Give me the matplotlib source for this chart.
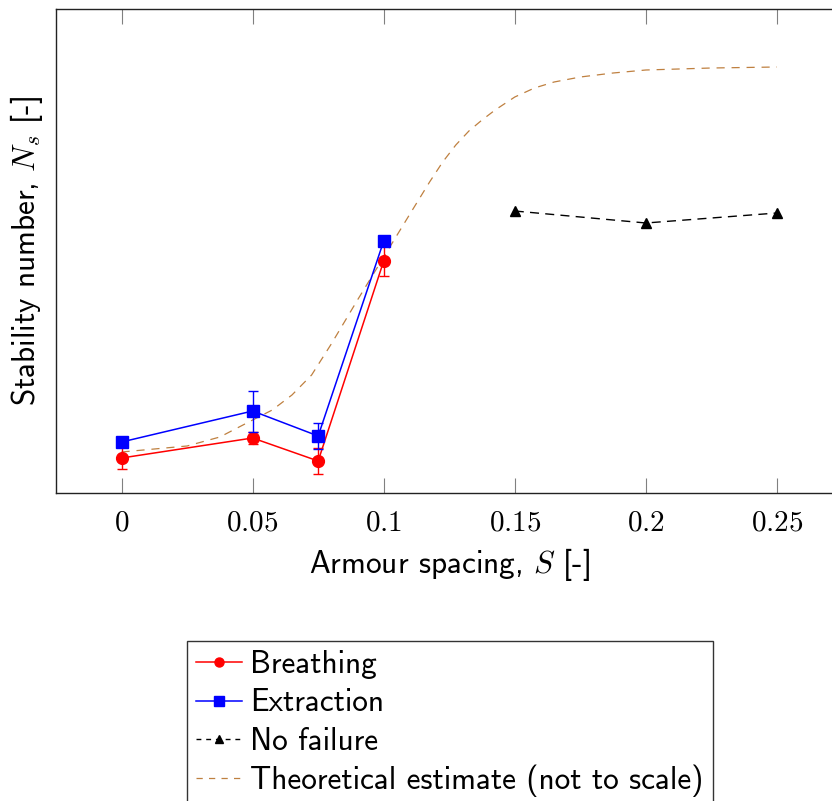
import matplotlib
matplotlib.use("Agg")
import matplotlib.pyplot as plt
from matplotlib.font_manager import FontProperties
from matplotlib.lines import Line2D

plt.rcParams['mathtext.fontset'] = 'cm'
plt.rcParams['axes.unicode_minus'] = False

# ---- data (arbitrary vertical units, no y ticks in the original) ----
s_breathing = [0.0, 0.05, 0.075, 0.1]
ns_breathing = [0.35, 0.55, 0.32, 2.32]
err_breathing = [0.11, 0.06, 0.13, 0.15]

s_extraction = [0.0, 0.05, 0.075, 0.1]
ns_extraction = [0.51, 0.82, 0.57, 2.52]
err_extraction = [0.03, 0.205, 0.13, 0.03]

s_nofail = [0.15, 0.2, 0.25]
ns_nofail = [2.82, 2.70, 2.80]

s_theory = [0.0, 0.0125, 0.025, 0.0375, 0.05, 0.0575, 0.065, 0.0725, 0.08, 0.09,
            0.1, 0.11, 0.1175, 0.1225, 0.1275, 0.1325, 0.1375, 0.1425, 0.15,
            0.1575, 0.165, 0.175, 0.1875, 0.2, 0.2125, 0.225, 0.2375, 0.25]
ns_theory = [0.41, 0.44, 0.47, 0.56, 0.73, 0.83, 0.98, 1.18, 1.49, 1.93,
             2.36, 2.79, 3.11, 3.31, 3.48, 3.62, 3.73, 3.83, 3.96,
             4.05, 4.11, 4.16, 4.20, 4.23, 4.24, 4.25, 4.255, 4.26]

xticks = [0, 0.05, 0.1, 0.15, 0.2, 0.25]
xtick_labels = ['0', '0.05', '0.1', '0.15', '0.2', '0.25']

W, H = 832, 801
fig = plt.figure(figsize=(W / 100, H / 100), dpi=100)
ax = fig.add_axes([56 / W, 308 / H, (842.5 - 56) / W, 484 / H])

sans = 'cmss10'
fs = 22.5
fs_tick = 21

red = '#ff0000'
blue = '#0000ff'
brown = '#bf8040'

ax.plot(s_theory, ns_theory, color=brown, lw=0.9, dashes=(6.5, 5.5), zorder=1)
ax.errorbar(s_breathing, ns_breathing, yerr=err_breathing, color=red, lw=1.1,
            marker='o', markersize=8.5, capsize=3.8, elinewidth=1.0, zorder=3)
ax.errorbar(s_extraction, ns_extraction, yerr=err_extraction, color=blue, lw=1.1,
            marker='s', markersize=8.5, capsize=3.8, elinewidth=1.0, zorder=4)
ax.plot(s_nofail, ns_nofail, color='black', lw=1.0, dashes=(6.5, 4.5),
        marker='^', markersize=7, zorder=5)

ax.set_xlim(-0.025, 0.275)
ax.set_ylim(0, 4.84)
ax.set_yticks([])
ax.set_xticks(xticks)
ax.set_xticklabels(['$' + t + '$' for t in xtick_labels], fontsize=fs_tick)
ax.tick_params(axis='x', direction='in', length=10.5, width=0.8, color='#808080',
               top=True, bottom=True, pad=11)

for sp in ax.spines.values():
    sp.set_linewidth(1.0)
    sp.set_color('#222222')

ax.set_xlabel('Armour spacing, $S$ [-]', fontsize=fs, family=sans, labelpad=7)
ax.set_ylabel('Stability number, $N_s$ [-]', fontsize=fs, family=sans, labelpad=8)

labels = ['Breathing', 'Extraction', 'No failure', 'Theoretical estimate (not to scale)']
handles = [
    Line2D([], [], color=red, lw=1.1, marker='o', markersize=6.5),
    Line2D([], [], color=blue, lw=1.1, marker='s', markersize=6.5),
    Line2D([], [], color='black', lw=1.0, dashes=(3.5, 3.5), marker='^', markersize=5.5),
    Line2D([], [], color=brown, lw=0.9, dashes=(5, 5)),
]
leg = fig.legend(handles, labels,
                 loc='upper center', bbox_to_anchor=(450 / W, 160 / H),
                 bbox_transform=fig.transFigure, frameon=True, fancybox=False,
                 prop=FontProperties(family=sans, size=fs),
                 handlelength=1.47, handletextpad=0.26, borderpad=0.3,
                 labelspacing=0.29, borderaxespad=0)
leg.get_frame().set_edgecolor('black')
leg.get_frame().set_linewidth(1.0)

fig.savefig('out.png', dpi=100)
